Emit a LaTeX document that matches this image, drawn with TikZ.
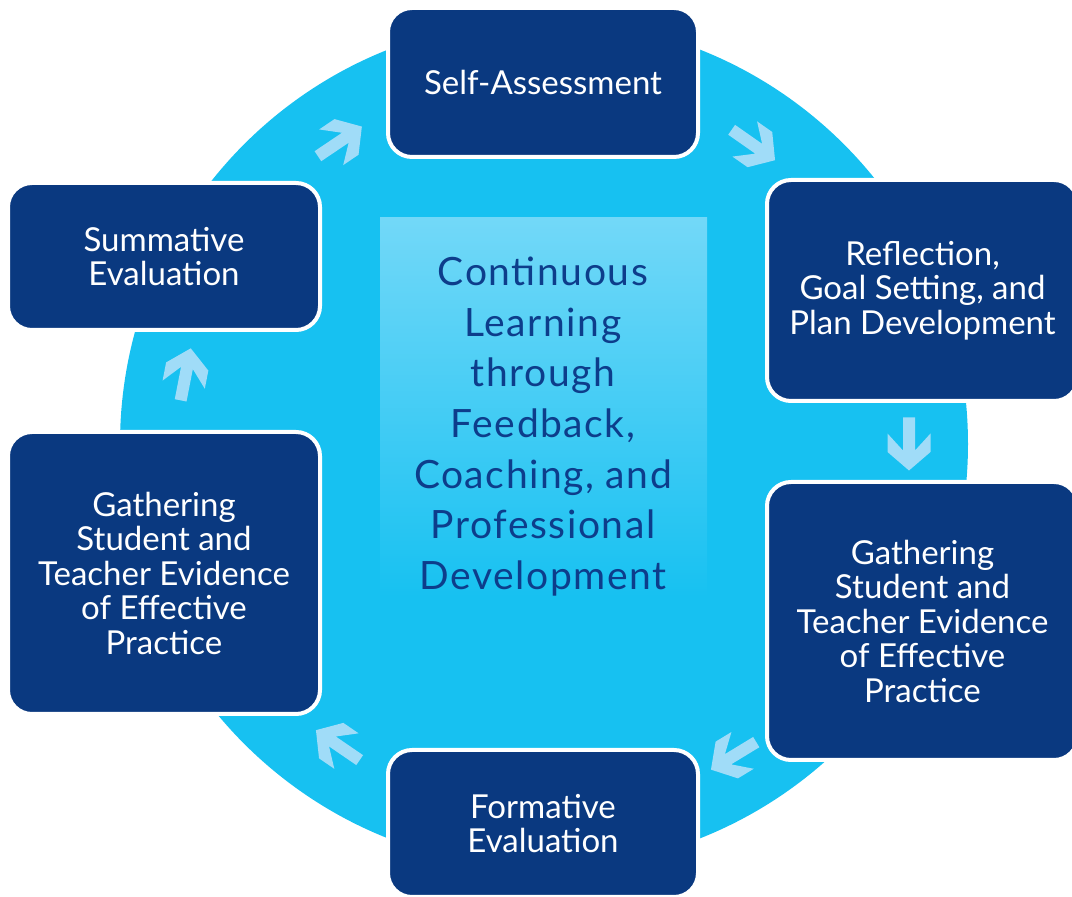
\documentclass[tikz,border=0pt]{standalone}
\usepackage{fontspec}
\setmainfont{Lato}
\definecolor{navy}{HTML}{0A3980}
\definecolor{ringc}{HTML}{17C1F1}
\definecolor{arrowc}{HTML}{A0DCF8}
\definecolor{lightc}{HTML}{72D8F8}
\definecolor{textc}{HTML}{0D3D8B}
\begin{document}
\begin{tikzpicture}[x=1pt,y=1pt,
  box/.style={draw=white, line width=4pt, fill=navy, rounded corners=24pt, text=white,
    align=center, inner sep=0pt, font=\fontsize{33}{34.5}\selectfont},
  arr/.style={fill=arrowc}]
\useasboundingbox (0,0) rectangle (1072,897);
\clip (0,0) rectangle (1072,897);
\coordinate (C) at (544,453);
\fill[ringc] (C) circle (424);
\shade[top color=lightc, bottom color=ringc] (380,300) rectangle (707,679);
\node[text=textc, align=center, inner sep=0pt, font=\fontsize{39}{50.7}\selectfont\addfontfeature{LetterSpace=4.0}] (mid) at (543,470.5)
  {Continuous\\Learning\\through\\Feedback,\\Coaching, and\\Professional\\Development};
\node[box, minimum width=310, minimum height=149] (self) at (543,814.5) {Self-Assessment};
\node[box, minimum width=311, minimum height=221] (refl) at (922.5,606.5) {Reflection,\\Goal Setting, and\\Plan Development};
\node[box, minimum width=311, minimum height=278] (gathr) at (922.5,276) {Gathering\\Student and\\Teacher Evidence\\of Effective\\Practice};
\node[box, minimum width=310, minimum height=147] (form) at (543,73.5) {Formative\\Evaluation};
\node[box, minimum width=312, minimum height=282] (gathl) at (164,324) {Gathering\\Student and\\Teacher Evidence\\of Effective\\Practice};
\node[box, minimum width=312, minimum height=147] (summ) at (164,640.5) {Summative\\Evaluation};
\foreach \a in {124,55,0,-58.7,-124.4,169}{
  \begin{scope}[shift={(C)}, shift={(\a:365)}, rotate={\a-90}]
    \fill[arr] (-26.5,6) -- (6.5,6) -- (-10.5,21.5) -- (8,21.5) -- (26.5,0) -- (8,-21.5)
      -- (-10.5,-21.5) -- (6.5,-6) -- (-26.5,-6) -- cycle;
  \end{scope}
}
\end{tikzpicture}
\end{document}
